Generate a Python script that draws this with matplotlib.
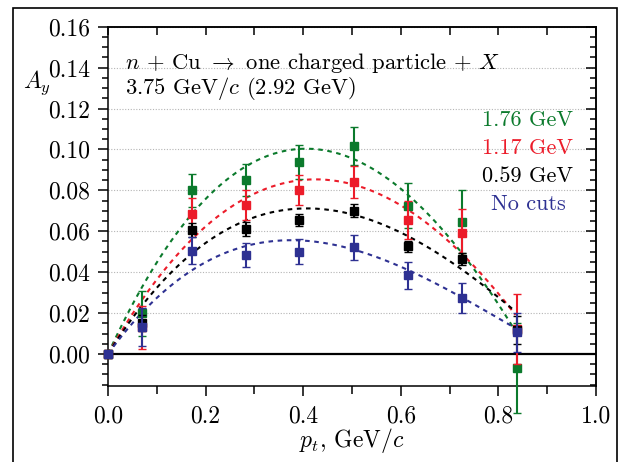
import numpy as np
import matplotlib
matplotlib.use("Agg")
import matplotlib.pyplot as plt
from matplotlib.ticker import MultipleLocator, FormatStrFormatter
from matplotlib.patches import Rectangle

plt.rcParams['font.family'] = ['cmr10', 'DejaVu Serif']
plt.rcParams['mathtext.fontset'] = 'cm'
plt.rcParams['axes.formatter.use_mathtext'] = True

# ---- data ----
pt = [0.0, 0.07, 0.173, 0.283, 0.392, 0.504, 0.615, 0.725, 0.838]

labels = ["1.76 GeV", "1.17 GeV", "0.59 GeV", "No cuts"]
colors = ["#0b7a2c", "#ec1c2a", "#000000", "#2e3192"]

ay_176 = [0.0, 0.020, 0.080, 0.085, 0.094, 0.1016, 0.0725, 0.0647, -0.007]
err_176 = [0.0, 0.011, 0.0082, 0.0078, 0.0083, 0.0094, 0.011, 0.0155, 0.022]
ay_117 = [0.0, 0.013, 0.0684, 0.0728, 0.080, 0.0841, 0.0656, 0.0591, 0.0121]
err_117 = [0.0, 0.0105, 0.008, 0.0072, 0.0074, 0.008, 0.0092, 0.0118, 0.017]
ay_059 = [0.0, 0.015, 0.0606, 0.0611, 0.0655, 0.070, 0.0526, 0.0464, 0.0118]
err_059 = [0.0, 0.004, 0.0035, 0.0033, 0.003, 0.0032, 0.0028, 0.003, 0.0068]
ay_nocut = [0.0, 0.013, 0.0505, 0.0484, 0.050, 0.0521, 0.0384, 0.0274, 0.0106]
err_nocut = [0.0, 0.0093, 0.0065, 0.0058, 0.006, 0.0062, 0.0064, 0.0075, 0.0095]

# fit parameters: A_y = pt*(a + b*pt + c*pt^2)
fit_a = [0.519, 0.418, 0.3796, 0.3286]
fit_b = [-0.730, -0.550, -0.5774, -0.5665]
fit_c = [0.149, 0.092, 0.1827, 0.2288]
fit_range = [0.0, 0.835]

series = [(ay_176, err_176), (ay_117, err_117), (ay_059, err_059), (ay_nocut, err_nocut)]

W, H = 629, 462
fig = plt.figure(figsize=(W / 100, H / 100), dpi=100)
ax = fig.add_axes([108 / W, 1 - 385.7 / H, (596 - 108) / W, (385.7 - 26.7) / H])

ax.set_xlim(0, 1)
ax.set_ylim(-0.0155, 0.16)

# grid and zero line
for gy in np.arange(0.02, 0.16, 0.02):
    ax.axhline(gy, color="#b5b5b5", lw=0.8, ls=(0, (1, 1.5)), zorder=0)
ax.axhline(0.0, color="black", lw=1.6, zorder=1)

xf = np.linspace(fit_range[0], fit_range[1], 300)
for i, (col, (ay, er)) in enumerate(zip(colors, series)):
    yf = xf * (fit_a[i] + fit_b[i] * xf + fit_c[i] * xf ** 2)
    ax.plot(xf, yf, color=col, lw=1.5, ls=(0, (2.2, 2.2)), zorder=2 + i)

for i, (col, (ay, er)) in enumerate(zip(colors, series)):
    ms = 6.0 if i == 1 else 5.2
    cont = ax.errorbar(pt, ay, yerr=er, fmt="s", color=col, ms=ms, mec=col, mew=1.0,
                       capsize=3.2, elinewidth=1.5, capthick=1.5, zorder=10 + i)
    for art in cont.get_children():
        art.set_clip_on(False)
    cont[0].set_clip_on(False)

# ticks
ax.xaxis.set_major_locator(MultipleLocator(0.2))
ax.xaxis.set_minor_locator(MultipleLocator(0.1))
ax.yaxis.set_major_locator(MultipleLocator(0.02))
ax.yaxis.set_minor_locator(MultipleLocator(0.005))
ax.xaxis.set_major_formatter(FormatStrFormatter("%.1f"))
ax.yaxis.set_major_formatter(FormatStrFormatter("%.2f"))
ax.tick_params(axis="both", which="major", direction="out", length=7, width=1.1,
               labelsize=17, top=False, right=False)
ax.tick_params(axis="x", which="minor", direction="out", length=6, width=1.1, top=False)
ax.tick_params(axis="y", which="minor", direction="out", length=4.5, width=1.1, right=False)
ax.tick_params(axis="x", which="major", pad=7)
ax.tick_params(axis="y", which="major", pad=6)

secx = ax.secondary_xaxis("top")
secx.xaxis.set_major_locator(MultipleLocator(0.1))
secx.tick_params(direction="in", length=6, width=1.1, labeltop=False)
secy = ax.secondary_yaxis("right")
secy.yaxis.set_major_locator(MultipleLocator(0.02))
secy.yaxis.set_minor_locator(MultipleLocator(0.005))
secy.tick_params(which="major", direction="in", length=7, width=1.1, labelright=False)
secy.tick_params(which="minor", direction="in", length=4.5, width=1.1)

for sp in list(ax.spines.values()):
    sp.set_linewidth(1.1)
for s in (secx, secy):
    for sp in s.spines.values():
        sp.set_linewidth(1.1)

def fx(px):
    return px / W

def fy(py):
    return 1 - py / H

fs = 16.3
fig.text(fx(125), fy(63), r"$n$ + Cu $\rightarrow$ one charged particle + $X$",
         fontsize=fs, ha="left", va="center")
fig.text(fx(125), fy(88), r"3.75 GeV/$c$ (2.92 GeV)", fontsize=fs, ha="left", va="center")

for lab, col, py in zip(labels, colors, [120, 148, 176, 204]):
    fig.text(fx(528), fy(py), lab, color=col, fontsize=16, ha="center", va="center")

fig.text(fx(23), fy(88), r"$A_y$", fontsize=17, ha="left", va="baseline")
fig.text(fx(352), fy(447), r"$p_t$, GeV/$c$", fontsize=17, ha="center", va="baseline")

frame = Rectangle((13 / W, -0.2), (617 - 13) / W, (1 - 8 / H) + 0.2,
                  transform=fig.transFigure, fill=False, lw=1.2, ec="black",
                  clip_on=False)
fig.add_artist(frame)

fig.savefig("out.png", dpi=100)
